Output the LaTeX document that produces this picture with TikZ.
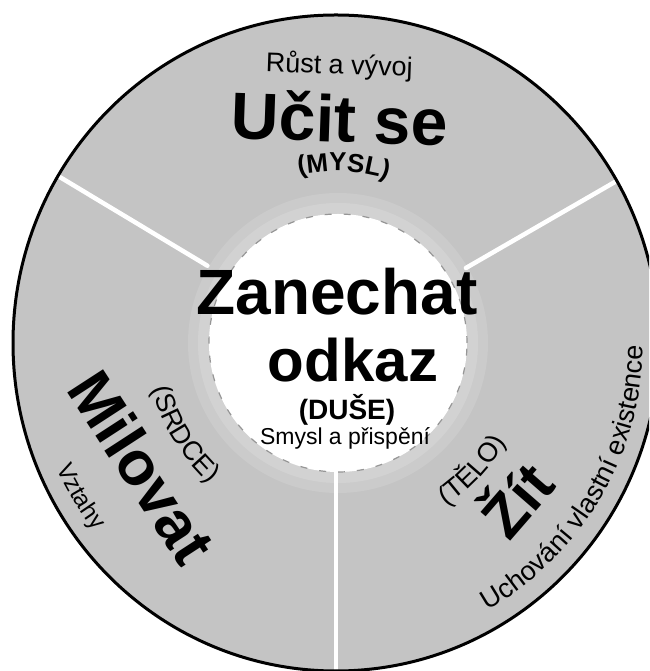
\documentclass[tikz,border=0pt]{standalone}
\usepackage{fontspec}
\setmainfont{Liberation Sans}
\usetikzlibrary{decorations.text}
\definecolor{disc}{RGB}{196,196,196}
\definecolor{dashgray}{RGB}{150,150,150}
\tikzset{
  bigword/.style={font=\fontsize{64}{64}\selectfont\bfseries, inner sep=0pt},
  midword/.style={font=\fontsize{28}{28}\selectfont\bfseries, inner sep=0pt},
  smallword/.style={font=\fontsize{23}{23}\selectfont, inner sep=0pt},
  divider/.style={white, line width=4.5pt, line cap=round},
  core/.style={circle, minimum size=258pt, fill=white, draw=dashgray, line width=1.2pt, dash pattern=on 7pt off 12pt, inner sep=0pt},
}
\begin{document}
\begin{tikzpicture}[x=1pt,y=1pt]
\useasboundingbox (0,0) rectangle (649,671);
\clip (0,0) rectangle (649,671);
\coordinate (C) at (336,328);
\fill[disc] (C) ellipse [x radius=323, y radius=328];
% dividers
\path (C) ++(149:150) coordinate (d1s) ++(149:220) coordinate (d1e);
\path (C) ++(30:150) coordinate (d2s) ++(30:220) coordinate (d2e);
\path (C) ++(270:125) coordinate (d3s) ++(270:240) coordinate (d3e);
\begin{scope}
  \clip (C) ellipse [x radius=323, y radius=328];
  \draw[divider] (d1s) -- (d1e);
  \draw[divider] (d2s) -- (d2e);
  \draw[divider] (d3s) -- (d3e);
\end{scope}
% halo and core
\fill[white, opacity=0.12] (338,328) circle [radius=150];
\fill[white, opacity=0.15] (338,328) circle [radius=140];
\node[core] (center) at (338,328) {};
% centre texts
\node[bigword, anchor=base] (zan) at (337,356) {Zanechat};
\node[font=\fontsize{60}{60}\selectfont\bfseries, inner sep=0pt, anchor=base] (odk) at (353,289) {odkaz};
\node[midword, anchor=base] (duse) at (347,251) {(DUŠE)};
\node[smallword, anchor=base] (smysl) at (345,226) {Smysl a přispění};
% top group
\node[font=\fontsize{27}{27}\selectfont, inner sep=0pt, anchor=base, rotate=-2] (rust) at (339,597) {Růst a vývoj};
\node[font=\fontsize{66}{66}\selectfont\bfseries, inner sep=0pt, anchor=base, rotate=-2] (ucit) at (339,529) {Učit se};
\path[decorate, decoration={text along path, text align=center,
  text={|\fontsize{26}{26}\selectfont\bfseries|(MYSL)}}]
  (C) ++(104:172) arc [start angle=104, end angle=71, radius=172];
% left group
\node[font=\fontsize{62}{62}\selectfont\bfseries, inner sep=0pt, rotate=-57] (milovat) at (142,204) {Milovat};
\path[decorate, decoration={text along path, text align=center,
  text={|\fontsize{27}{27}\selectfont|(SRDCE)}}]
  (C) ++(193:189) arc [start angle=193, end angle=229, radius=189];
\path[decorate, decoration={text along path, text align=center,
  text={|\fontsize{24}{24}\selectfont|Vztahy}}]
  (C) ++(203:306) arc [start angle=203, end angle=219, radius=306];
% right group
\node[font=\fontsize{60}{60}\selectfont\bfseries, inner sep=0pt, rotate=49] (zit) at (513,174) {Žít};
\path[decorate, decoration={text along path, text align=center,
  text={|\fontsize{27}{27}\selectfont|(TĚLO)}}]
  (C) ++(302:197) arc [start angle=302, end angle=332, radius=197];
\path[decorate, decoration={text along path, text align=center,
  text={|\fontsize{27}{27}\selectfont|Uchování vlastní existence}}]
  (C) ++(296:307) arc [start angle=296, end angle=363, radius=307];
% outline
\draw[line width=3pt] (C) ellipse [x radius=323, y radius=328];
\end{tikzpicture}
\end{document}
